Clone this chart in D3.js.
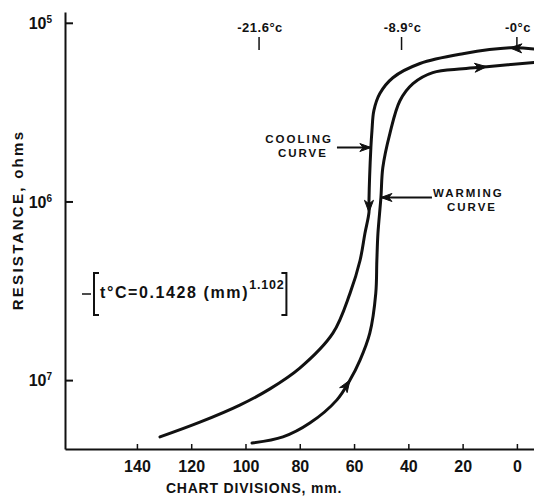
<!doctype html>
<meta charset="utf-8">
<title>Resistance vs chart divisions</title>
<style>
  body { margin: 0; background: #fff; }
  svg { display: block; }
  text { font-family: "Liberation Sans", Arial, sans-serif; font-weight: bold; fill: #111; }
</style>
<svg id="chart" width="534" height="498"></svg>
<script src="https://cdn.jsdelivr.net/npm/d3@7/dist/d3.min.js"></script>
<script>

// chart divisions (mm), cooling curve goes from 0 C downwards
var coolingMm   = [-6.3, 2.6, 19.9, 35.7, 45.7, 50.5, 52.7, 53.4, 53.8, 54.5, 54.5, 56.0, 57.8, 61.5, 67.8, 80.0, 91.0, 102.1, 116.8, 131.5];
var coolingOhms = [1.40e5, 1.38e5, 1.49e5, 1.69e5, 2.03e5, 2.49e5, 3.10e5, 4.01e5, 4.99e5, 9.86e5, 1.15e6, 1.51e6, 2.14e6, 3.27e6, 5.46e6, 8.57e6, 1.12e7, 1.38e7, 1.72e7, 2.08e7];
var coolingArrows = [1, 10];

// warming curve, from the cold end back up to 0 C
var warmingMm   = [97.6, 86.2, 76.3, 66.3, 61.5, 57.8, 54.2, 52.0, 51.6, 51.2, 50.1, 49.4, 46.8, 43.1, 38.3, 31.0, 19.9, 11.1, -6.3];
var warmingOhms = [2.25e7, 2.08e7, 1.74e7, 1.29e7, 1.0e7, 7.73e6, 5.46e6, 3.27e6, 2.14e6, 1.51e6, 9.5e5, 6.46e5, 4.17e5, 2.73e5, 2.19e5, 1.90e5, 1.81e5, 1.76e5, 1.67e5];
var warmingArrows = [4, 17];

// axes
var mmTicks = [140, 120, 100, 80, 60, 40, 20, 0];
var ohmTicks = [1e5, 1e6, 1e7];
var ohmExp = ["5", "6", "7"];

// temperature marks along the top
var tempLabels = ["-21.6°c", "-8.9°c", "-0°c"];
var tempMm = [95, 42.5, 0];

var svg = d3.select("#chart");

var x = d3.scaleLinear().domain([166.5, -6.3]).range([65, 534]);
var y = d3.scaleLog().domain([8.7e4, 2.43e7]).range([12, 449]);

// (x axis)
var xAxis = svg.append("g")
	.attr("transform", "translate(0," + y(2.43e7) + ")")
	.call(d3.axisBottom(x).tickValues(mmTicks).tickSize(-5).tickSizeOuter(0).tickPadding(12).tickFormat(d3.format("d")));
xAxis.select(".domain").attr("stroke", "#111").attr("stroke-width", 2);
xAxis.selectAll(".tick line").attr("stroke", "#111").attr("stroke-width", 1.5);
xAxis.selectAll(".tick text").attr("font-size", 16).attr("font-family", null).attr("fill", "#111");

// (y axis)
var yAxis = svg.append("g")
	.attr("transform", "translate(" + x(166.5) + ",0)")
	.call(d3.axisLeft(y).tickValues(ohmTicks).tickSize(-8).tickSizeOuter(0).tickFormat(""));
yAxis.select(".domain").attr("stroke", "#111").attr("stroke-width", 2);
yAxis.selectAll(".tick line").attr("stroke", "#111").attr("stroke-width", 2);
yAxis.selectAll(".tick").each(function(d, i) {
	var t = d3.select(this).append("text")
		.attr("x", -13).attr("dy", "0.35em")
		.attr("text-anchor", "end").attr("font-size", 16).attr("fill", "#111");
	t.append("tspan").text("10");
	t.append("tspan").attr("font-size", 10).attr("dy", "-0.6em").text(ohmExp[i]);
});

// (axis titles)
svg.append("text")
	.attr("x", 254).attr("y", 493)
	.attr("text-anchor", "middle").attr("font-size", 14).attr("letter-spacing", 0.8)
	.text("CHART DIVISIONS, mm.");

svg.append("text")
	.attr("transform", "translate(23,220) rotate(-90)")
	.attr("text-anchor", "middle").attr("font-size", 15).attr("letter-spacing", 2.3)
	.text("RESISTANCE, ohms");

// (temperature marks)
var temps = svg.selectAll(".temp").data(tempLabels).enter().append("g")
	.attr("class", "temp")
	.attr("transform", function(d, i) { return "translate(" + x(tempMm[i]) + ",0)"; });
temps.append("line").attr("y1", 37).attr("y2", 50).attr("stroke", "#111").attr("stroke-width", 1.5);
temps.append("text").attr("y", 32).attr("x", 1).attr("text-anchor", "middle")
	.attr("font-size", 13).attr("letter-spacing", 0.5)
	.text(function(d) { return d; });

// (curves)
var line = d3.line()
	.x(function(d) { return x(d[0]); })
	.y(function(d) { return y(d[1]); })
	.curve(d3.curveCatmullRom.alpha(0.5));

function drawCurve(mm, ohms, arrows) {
	var pts = d3.zip(mm, ohms);
	svg.append("path").datum(pts)
		.attr("d", line)
		.attr("fill", "none").attr("stroke", "#111").attr("stroke-width", 3)
		.attr("stroke-linecap", "round");
	arrows.forEach(function(i) {
		arrowHead(x(pts[i][0]), y(pts[i][1]), x(pts[i - 1][0]), y(pts[i - 1][1]), 12, 4.5);
	});
}

function arrowHead(tx, ty, fx, fy, len, half) {
	var a = Math.atan2(ty - fy, tx - fx);
	var bx = tx - len * Math.cos(a), by = ty - len * Math.sin(a);
	var nx = -Math.sin(a) * half, ny = Math.cos(a) * half;
	var mx = tx - len * 0.7 * Math.cos(a), my = ty - len * 0.7 * Math.sin(a);
	svg.append("path")
		.attr("d", "M" + tx + "," + ty + "L" + (bx + nx) + "," + (by + ny) + "L" + mx + "," + my + "L" + (bx - nx) + "," + (by - ny) + "Z")
		.attr("fill", "#111").attr("stroke", "#111").attr("stroke-width", 1);
}

drawCurve(coolingMm, coolingOhms, coolingArrows);
drawCurve(warmingMm, warmingOhms, warmingArrows);

// (labels pointing at the curves)
function callout(lines, tipMm, tipOhms, tailMm, side) {
	var tx = x(tipMm), ty = y(tipOhms), sx = x(tailMm);
	svg.append("line").attr("x1", sx).attr("y1", ty).attr("x2", tx).attr("y2", ty)
		.attr("stroke", "#111").attr("stroke-width", 2);
	arrowHead(tx, ty, sx, ty, 11, 4);
	var tx0 = side < 0 ? sx - 4 : sx + 1;
	lines.forEach(function(s, k) {
		svg.append("text")
			.attr("x", side < 0 ? tx0 - (k ? 5 : 0) : tx0 + (k ? 14 : 0))
			.attr("y", ty - 5 + k * 14 + (side < 0 ? 0 : 5))
			.attr("text-anchor", side < 0 ? "end" : "start")
			.attr("font-size", 11.5).attr("letter-spacing", 2)
			.text(s);
	});
}

callout(["COOLING", "CURVE"], coolingMm[8], coolingOhms[8], 66.3, -1);
callout(["WARMING", "CURVE"], warmingMm[10], warmingOhms[10], 31.3, 1);

// (formula)
var f = svg.append("g").attr("transform", "translate(82,294)");
f.append("line").attr("x1", 0).attr("x2", 9).attr("stroke", "#111").attr("stroke-width", 1.5);
f.append("path").attr("d", "M17,-21H12V21H17").attr("fill", "none").attr("stroke", "#111").attr("stroke-width", 2);
var ft = f.append("text").attr("x", 18).attr("y", 4).attr("font-size", 16).attr("letter-spacing", 1.6);
ft.append("tspan").text("t°C=0.1428 (mm)");
ft.append("tspan").attr("font-size", 12.5).attr("letter-spacing", 0.8).attr("dy", "-0.7em").text("1.102");
var fEnd = 18 + ft.node().getComputedTextLength() + 2;
f.append("path").attr("d", "M" + (fEnd - 5) + ",-21H" + fEnd + "V21H" + (fEnd - 5))
	.attr("fill", "none").attr("stroke", "#111").attr("stroke-width", 2);

</script>
